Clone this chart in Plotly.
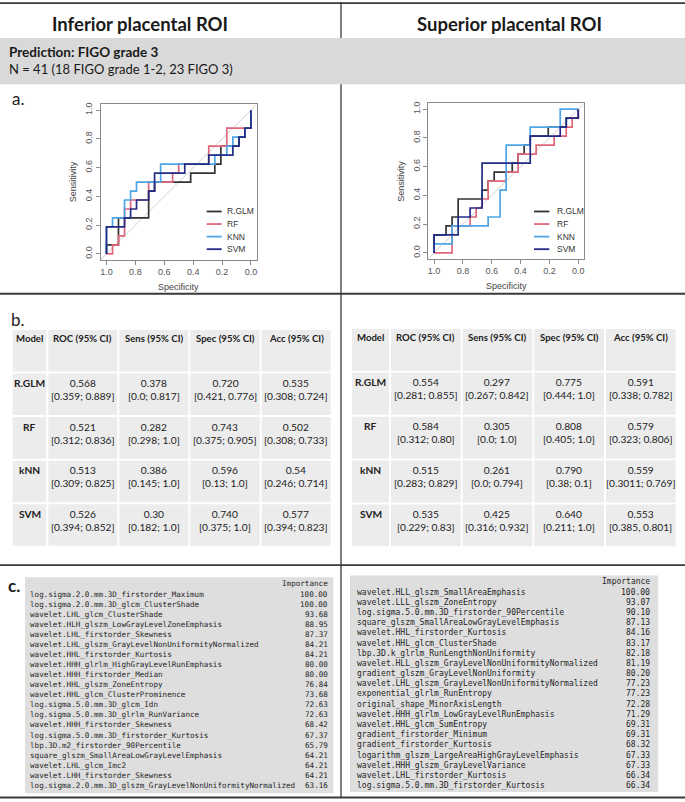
import plotly.graph_objects as go

W, H = 685, 802

# ---------------- ROC curve data (specificity, sensitivity) ----------------
roc_models = ["R.GLM", "RF", "KNN", "SVM"]
roc_colors = ["#333333", "#E0667A", "#4EA5E6", "#232C86"]

# Inferior placental ROI
inf_glm_spec = [1, 1, 0.917, 0.917, 0.708, 0.708, 0.667, 0.667, 0.417, 0.417, 0.25, 0.25, 0.208, 0.208, 0.083, 0.083, 0.042, 0.042, 0, 0]
inf_glm_sens = [0, 0.0625, 0.0625, 0.25, 0.25, 0.4375, 0.4375, 0.5, 0.5, 0.5625, 0.5625, 0.625, 0.625, 0.75, 0.75, 0.8125, 0.8125, 0.875, 0.875, 1]
inf_rf_spec = [1, 0.958, 0.958, 0.917, 0.917, 0.875, 0.875, 0.833, 0.833, 0.708, 0.708, 0.542, 0.542, 0.5, 0.5, 0.292, 0.292, 0.167, 0.167, 0, 0]
inf_rf_sens = [0, 0, 0.0625, 0.0625, 0.125, 0.125, 0.3125, 0.3125, 0.375, 0.375, 0.5, 0.5, 0.5625, 0.5625, 0.625, 0.625, 0.75, 0.75, 0.875, 0.875, 1]
inf_knn_spec = [1, 1, 0.958, 0.958, 0.875, 0.875, 0.833, 0.833, 0.792, 0.792, 0.625, 0.625, 0.25, 0.25, 0.167, 0.167, 0.125, 0.125, 0.042, 0.042, 0, 0]
inf_knn_sens = [0, 0.1875, 0.1875, 0.25, 0.25, 0.375, 0.375, 0.4375, 0.4375, 0.5, 0.5, 0.625, 0.625, 0.6875, 0.6875, 0.75, 0.75, 0.8125, 0.8125, 0.875, 0.875, 1]
inf_svm_spec = [1, 1, 0.875, 0.875, 0.833, 0.833, 0.792, 0.792, 0.708, 0.708, 0.667, 0.667, 0.458, 0.458, 0.292, 0.292, 0.125, 0.125, 0.083, 0.083, 0.042, 0.042, 0, 0]
inf_svm_sens = [0, 0.1875, 0.1875, 0.25, 0.25, 0.3125, 0.3125, 0.375, 0.375, 0.4375, 0.4375, 0.5625, 0.5625, 0.625, 0.625, 0.6875, 0.6875, 0.75, 0.75, 0.8125, 0.8125, 0.875, 0.875, 1]

# Superior placental ROI
sup_glm_spec = [1, 1, 0.917, 0.917, 0.875, 0.875, 0.833, 0.833, 0.667, 0.667, 0.625, 0.625, 0.583, 0.583, 0.458, 0.458, 0.417, 0.417, 0.375, 0.375, 0.333, 0.333, 0.208, 0.208, 0.083, 0.083, 0, 0]
sup_glm_sens = [0, 0.125, 0.125, 0.1875, 0.1875, 0.25, 0.25, 0.375, 0.375, 0.4375, 0.4375, 0.5, 0.5, 0.5625, 0.5625, 0.625, 0.625, 0.6875, 0.6875, 0.75, 0.75, 0.8125, 0.8125, 0.875, 0.875, 0.9375, 0.9375, 1]
sup_rf_spec = [1, 0.875, 0.875, 0.75, 0.75, 0.708, 0.708, 0.667, 0.667, 0.625, 0.625, 0.5, 0.5, 0.417, 0.417, 0.292, 0.292, 0.167, 0.167, 0.083, 0.083, 0.042, 0.042, 0, 0]
sup_rf_sens = [0, 0, 0.1875, 0.1875, 0.25, 0.25, 0.3125, 0.3125, 0.375, 0.375, 0.5, 0.5, 0.5625, 0.5625, 0.6875, 0.6875, 0.75, 0.75, 0.8125, 0.8125, 0.875, 0.875, 0.9375, 0.9375, 1]
sup_knn_spec = [1, 1, 0.875, 0.875, 0.625, 0.625, 0.542, 0.542, 0.5, 0.5, 0.333, 0.333, 0.125, 0.125, 0]
sup_knn_sens = [0, 0.0625, 0.0625, 0.1875, 0.1875, 0.25, 0.25, 0.4375, 0.4375, 0.75, 0.75, 0.875, 0.875, 1, 1]
sup_svm_spec = [1, 1, 0.833, 0.833, 0.75, 0.75, 0.667, 0.667, 0.333, 0.333, 0.125, 0.125, 0.083, 0.083, 0, 0]
sup_svm_sens = [0, 0.125, 0.125, 0.25, 0.25, 0.3125, 0.3125, 0.625, 0.625, 0.8125, 0.8125, 0.875, 0.875, 0.9375, 0.9375, 1]

roc_ticks = [1.0, 0.8, 0.6, 0.4, 0.2, 0.0]
roc_ticktext = ["1.0", "0.8", "0.6", "0.4", "0.2", "0.0"]

# ---------------- Performance tables ----------------
tbl_header = ["Model", "ROC (95% CI)", "Sens (95% CI)", "Spec (95% CI)", "Acc (95% CI)"]
tbl_models = ["R.GLM", "RF", "kNN", "SVM"]

inf_roc = ["0.568", "0.521", "0.513", "0.526"]
inf_roc_ci = ["[0.359; 0.889]", "[0.312; 0.836]", "[0.309; 0.825]", "[0.394; 0.852]"]
inf_sens = ["0.378", "0.282", "0.386", "0.30"]
inf_sens_ci = ["[0.0; 0.817]", "[0.298; 1.0]", "[0.145; 1.0]", "[0.182; 1.0]"]
inf_spec = ["0.720", "0.743", "0.596", "0.740"]
inf_spec_ci = ["[0.421, 0.776]", "[0.375; 0.905]", "[0.13; 1.0]", "[0.375; 1.0]"]
inf_acc = ["0.535", "0.502", "0.54", "0.577"]
inf_acc_ci = ["[0.308; 0.724]", "[0.308; 0.733]", "[0.246; 0.714]", "[0.394; 0.823]"]

sup_roc = ["0.554", "0.584", "0.515", "0.535"]
sup_roc_ci = ["[0.281; 0.855]", "[0.312; 0.80]", "[0.283; 0.829]", "[0.229; 0.83]"]
sup_sens = ["0.297", "0.305", "0.261", "0.425"]
sup_sens_ci = ["[0.267; 0.842]", "[0.0; 1.0]", "[0.0; 0.794]", "[0.316; 0.932]"]
sup_spec = ["0.775", "0.808", "0.790", "0.640"]
sup_spec_ci = ["[0.444; 1.0]", "[0.405; 1.0]", "[0.38; 0.1]", "[0.211; 1.0]"]
sup_acc = ["0.591", "0.579", "0.559", "0.553"]
sup_acc_ci = ["[0.338; 0.782]", "[0.323; 0.806]", "[0.3011; 0.769]", "[0.385, 0.801]"]

# ---------------- Variable importance ----------------
inf_features = [
    "log.sigma.2.0.mm.3D_firstorder_Maximum",
    "log.sigma.2.0.mm.3D_glcm_ClusterShade",
    "wavelet.LHL_glcm_ClusterShade",
    "wavelet.HLH_glszm_LowGrayLevelZoneEmphasis",
    "wavelet.LHL_firstorder_Skewness",
    "wavelet.LHL_glszm_GrayLevelNonUniformityNormalized",
    "wavelet.HHL_firstorder_Kurtosis",
    "wavelet.HHH_glrlm_HighGrayLevelRunEmphasis",
    "wavelet.HHH_firstorder_Median",
    "wavelet.HHL_glszm_ZoneEntropy",
    "wavelet.HHL_glcm_ClusterProminence",
    "log.sigma.5.0.mm.3D_glcm_Idn",
    "log.sigma.5.0.mm.3D_glrlm_RunVariance",
    "wavelet.HHH_firstorder_Skewness",
    "log.sigma.5.0.mm.3D_firstorder_Kurtosis",
    "lbp.3D.m2_firstorder_90Percentile",
    "square_glszm_SmallAreaLowGrayLevelEmphasis",
    "wavelet.LHL_glcm_Imc2",
    "wavelet.LHH_firstorder_Skewness",
    "log.sigma.2.0.mm.3D_glszm_GrayLevelNonUniformityNormalized",
]
inf_importance = [100.00, 100.00, 93.68, 88.95, 87.37, 84.21, 84.21, 80.00, 80.00, 76.84,
                  73.68, 72.63, 72.63, 68.42, 67.37, 65.79, 64.21, 64.21, 64.21, 63.16]

sup_features = [
    "wavelet.HLL_glszm_SmallAreaEmphasis",
    "wavelet.LLL_glszm_ZoneEntropy",
    "log.sigma.5.0.mm.3D_firstorder_90Percentile",
    "square_glszm_SmallAreaLowGrayLevelEmphasis",
    "wavelet.HHL_firstorder_Kurtosis",
    "wavelet.HHL_glcm_ClusterShade",
    "lbp.3D.k_glrlm_RunLengthNonUniformity",
    "wavelet.HLL_glszm_GrayLevelNonUniformityNormalized",
    "gradient_glszm_GrayLevelNonUniformity",
    "wavelet.LHL_glszm_GrayLevelNonUniformityNormalized",
    "exponential_glrlm_RunEntropy",
    "original_shape_MinorAxisLength",
    "wavelet.HHH_glrlm_LowGrayLevelRunEmphasis",
    "wavelet.HHL_glcm_SumEntropy",
    "gradient_firstorder_Minimum",
    "gradient_firstorder_Kurtosis",
    "logarithm_glszm_LargeAreaHighGrayLevelEmphasis",
    "wavelet.HHH_glszm_GrayLevelVariance",
    "wavelet.LHL_firstorder_Kurtosis",
    "log.sigma.5.0.mm.3D_firstorder_Kurtosis",
]
sup_importance = [100.00, 93.07, 90.10, 87.13, 84.16, 83.17, 82.18, 81.19, 80.20, 77.23,
                  77.23, 72.28, 71.29, 69.31, 69.31, 68.32, 67.33, 67.33, 66.34, 66.34]


# ---------------- helpers ----------------
def X(p):
    return p / W


def Y(p):
    return 1 - p / H


SANS = "Lato"
MONO = "DejaVu Sans Mono"
RFONT = "Liberation Sans"

fig = go.Figure()
shapes = []
annos = []


def text(t, x, y, size, family=SANS, xanchor="left", yanchor="middle", color="#1a1a1a", angle=0):
    annos.append(dict(text=t, x=X(x), y=Y(y), xref="paper", yref="paper", showarrow=False,
                      xanchor=xanchor, yanchor=yanchor, textangle=angle,
                      font=dict(family=family, size=size, color=color)))


# ---------- frame lines and band ----------
LINE = "#3a3a3a"
shapes.append(dict(type="line", xref="paper", yref="paper", x0=X(341), x1=X(341), y0=Y(0), y1=Y(798),
                   line=dict(color=LINE, width=1.3)))
shapes.append(dict(type="rect", xref="paper", yref="paper", x0=0, x1=1, y0=Y(82.5), y1=Y(36),
                   fillcolor="#d9d9d9", line=dict(width=0)))
for yy in [1.2, 292.5, 564.5, 797.5]:
    shapes.append(dict(type="line", xref="paper", yref="paper", x0=0, x1=1, y0=Y(yy), y1=Y(yy),
                       line=dict(color=LINE, width=1.8)))

text("<b>Inferior placental ROI</b>", 140, 22, 18.5, xanchor="center")
text("<b>Superior placental ROI</b>", 509, 22, 18.5, xanchor="center")
text("<b>Prediction: FIGO grade 3</b>", 7, 50, 13.5)
text("N = 41 (18 FIGO grade 1-2, 23 FIGO 3)", 7, 67, 13)
text("a.", 10, 97, 17)
text("b.", 9, 318, 17)
text("<b>c.</b>", 6, 585, 17)

# ---------- ROC panels ----------
panels = [
    dict(ax="", dom_x=(100.7, 256.7), dom_y=(102.7, 258.3), leg_x=(206.7, 221.7, 225),
         curves=[(inf_glm_spec, inf_glm_sens), (inf_rf_spec, inf_rf_sens),
                 (inf_knn_spec, inf_knn_sens), (inf_svm_spec, inf_svm_sens)]),
    dict(ax="2", dom_x=(428.3, 584.0), dom_y=(101.7, 257.3), leg_x=(534.0, 549.3, 555),
         curves=[(sup_glm_spec, sup_glm_sens), (sup_rf_spec, sup_rf_sens),
                 (sup_knn_spec, sup_knn_sens), (sup_svm_spec, sup_svm_sens)]),
]
leg_rows = [210, 222.6, 235.2, 247.8]
axis_gray = "#8a8a8a"
tickfont = dict(family=RFONT, size=9, color="#555")
for p in panels:
    a = p["ax"]
    xname, yname = "x" + a, "y" + a
    fig.add_trace(go.Scatter(x=[1.04, -0.04], y=[-0.04, 1.04], mode="lines",
                             line=dict(color="#cfcfcf", width=1), xaxis=xname, yaxis=yname,
                             hoverinfo="skip", showlegend=False))
    for (sx, sy), col, name in zip(p["curves"], roc_colors, roc_models):
        fig.add_trace(go.Scatter(x=sx, y=sy, mode="lines", name=name,
                                 line=dict(color=col, width=1.7), xaxis=xname, yaxis=yname,
                                 showlegend=False))
    common = dict(showgrid=False, zeroline=False, showline=True, mirror=True, linecolor=axis_gray,
                  linewidth=1, ticks="outside", ticklen=4, tickcolor=axis_gray, tickwidth=1,
                  tickvals=roc_ticks, ticktext=roc_ticktext, tickfont=tickfont, fixedrange=True)
    fig.update_layout(**{
        "xaxis" + a: dict(common, domain=[X(p["dom_x"][0]), X(p["dom_x"][1])], range=[1.04, -0.04],
                          anchor=yname),
        "yaxis" + a: dict(common, domain=[Y(p["dom_y"][1]), Y(p["dom_y"][0])], range=[-0.04, 1.04],
                          tickangle=-90, anchor=xname),
    })
    cx = (p["dom_x"][0] + p["dom_x"][1]) / 2
    cy = (p["dom_y"][0] + p["dom_y"][1]) / 2
    text("Specificity", cx, p["dom_y"][1] + 27.5, 9, family=RFONT, xanchor="center", color="#444")
    text("Sensitivity", p["dom_x"][0] - 27.5, cy, 9, family=RFONT, xanchor="center", color="#444", angle=-90)
    lx0, lx1, tx = p["leg_x"]
    for ly, col, name in zip(leg_rows, roc_colors, roc_models):
        shapes.append(dict(type="line", xref="paper", yref="paper", x0=X(lx0), x1=X(lx1),
                           y0=Y(ly), y1=Y(ly), line=dict(color=col, width=1.8)))
        text(name, tx, ly, 8.5, family=RFONT, color="#333")


# ---------- performance tables (cells drawn as shapes, text as annotations) ----------
def table_columns(roc, roc_ci, sens, sens_ci, spec, spec_ci, acc, acc_ci):
    cols = [[f"<b>{m}</b>" for m in tbl_models]]
    for v, ci in [(roc, roc_ci), (sens, sens_ci), (spec, spec_ci), (acc, acc_ci)]:
        cols.append([f"{a}<br>{b}" for a, b in zip(v, ci)])
    return cols


tables = [
    dict(x0=11.7, y0=327.7, y1=546.2, widths=[35.6, 71, 71, 71.4, 71],
         cols=table_columns(inf_roc, inf_roc_ci, inf_sens, inf_sens_ci, inf_spec, inf_spec_ci, inf_acc, inf_acc_ci)),
    dict(x0=351.0, y0=326.7, y1=546.7, widths=[39, 71.7, 71.6, 71.7, 71.7],
         cols=table_columns(sup_roc, sup_roc_ci, sup_sens, sup_sens_ci, sup_spec, sup_spec_ci, sup_acc, sup_acc_ci)),
]
GAP = 1.0
for t in tables:
    rh = (t["y1"] - t["y0"]) / 5
    xs = [t["x0"]]
    for wdt in t["widths"]:
        xs.append(xs[-1] + wdt)
    for r in range(5):
        top = t["y0"] + r * rh
        for c in range(5):
            shapes.append(dict(type="rect", xref="paper", yref="paper",
                               x0=X(xs[c] + GAP), x1=X(xs[c + 1] - GAP),
                               y0=Y(top + rh - GAP), y1=Y(top + GAP),
                               fillcolor="#ececec", line=dict(width=0), layer="below"))
            cxm = (xs[c] + xs[c + 1]) / 2
            if r == 0:
                text(f"<b>{tbl_header[c]}</b>", cxm, top + 2.6, 9.6, xanchor="center", yanchor="top",
                     color="#222")
            else:
                text(t["cols"][c][r - 1], cxm, top + 2.6, 10.2, xanchor="center", yanchor="top",
                     color="#222")

# ---------- importance boxes ----------
imp_panels = [
    dict(box=(25, 333.3, 576.7, 793.3), tx=27.7, vx=330, head_y=583.3, y0=593.5, step=10.1, size=7.6,
         feats=inf_features, vals=inf_importance),
    dict(box=(350, 658.3, 575, 792), tx=355, vx=651.7, head_y=580.7, y0=591.7, step=10.2, size=8.0,
         feats=sup_features, vals=sup_importance),
]
for ip in imp_panels:
    bx0, bx1, by0, by1 = ip["box"]
    shapes.append(dict(type="rect", xref="paper", yref="paper", x0=X(bx0), x1=X(bx1), y0=Y(by1), y1=Y(by0),
                       fillcolor="#dedede", line=dict(width=0), layer="below"))
    text("Importance", ip["vx"], ip["head_y"], ip["size"], family=MONO, xanchor="right", color="#1e1e1e")
    for i, (name, val) in enumerate(zip(ip["feats"], ip["vals"])):
        yy = ip["y0"] + i * ip["step"]
        text(name, ip["tx"], yy, ip["size"], family=MONO, color="#1e1e1e")
        text(f"{val:.2f}", ip["vx"], yy, ip["size"], family=MONO, xanchor="right", color="#1e1e1e")

fig.update_layout(width=W, height=H, margin=dict(l=0, r=0, t=0, b=0),
                  paper_bgcolor="white", plot_bgcolor="white", showlegend=False,
                  shapes=shapes, annotations=annos)

fig.write_html("out.html", config={"displayModeBar": False},
               post_script="document.body.style.margin='0px';")
